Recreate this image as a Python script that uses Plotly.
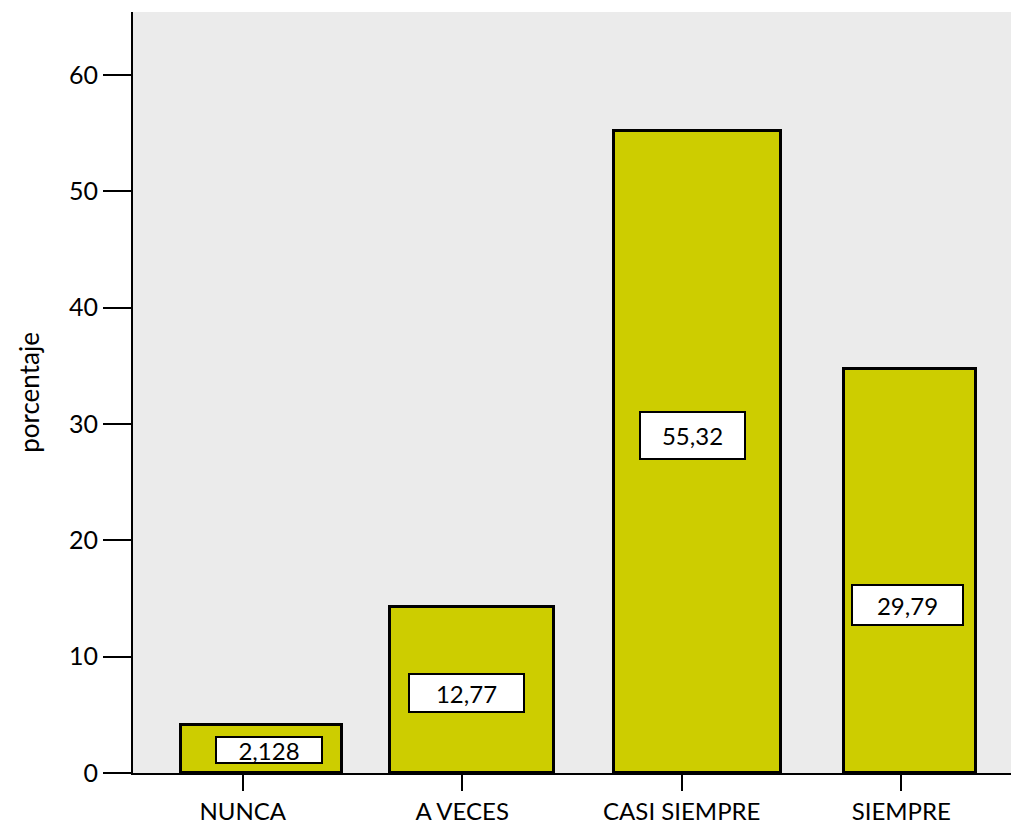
import plotly.graph_objects as go

categories = ["NUNCA", "A VECES", "CASI SIEMPRE", "SIEMPRE"]
bar_heights = [4.1, 14.3, 55.2, 34.7]          # heights as drawn in the picture
value_labels = ["2,128", "12,77", "55,32", "29,79"]  # printed labels
y_ticks = [0, 10, 20, 30, 40, 50, 60]

# layout / style (not data)
bar_widths = [0.73, 0.75, 0.76, 0.60]
bar_offsets = [-0.28, -0.33, -0.31, -0.26]
label_y = [2.0, 6.9, 29.0, 14.4]
label_dx = [0.12, 0.02, 0.05, 0.03]
label_w = [104, 113, 103, 109]
label_h = [24, 36, 45, 38]

FONT = "Lato, Open Sans, sans-serif"

fig = go.Figure()
fig.add_trace(go.Bar(
    x=categories, y=bar_heights,
    width=bar_widths, offset=bar_offsets,
    marker=dict(color="#CDCD00", line=dict(color="black", width=3)),
    hoverinfo="skip",
))

for i, (c, t) in enumerate(zip(categories, value_labels)):
    fig.add_annotation(
        x=i + label_dx[i], y=label_y[i], xref="x", yref="y",
        text=t, showarrow=False,
        font=dict(family=FONT, size=24, color="black"),
        bgcolor="white", bordercolor="black", borderwidth=2,
        width=label_w[i], height=label_h[i], borderpad=0,
        valign="middle",
    )

fig.update_layout(
    width=1011, height=825,
    margin=dict(l=133, r=0, t=12, b=50),
    paper_bgcolor="white", plot_bgcolor="#EBEBEB",
    showlegend=False,
    font=dict(family=FONT, size=24, color="black"),
    bargap=0,
)
fig.update_xaxes(
    type="category", range=[-0.5, 3.5],
    showline=True, linecolor="black", linewidth=2,
    ticks="outside", ticklen=16, tickwidth=2, tickcolor="black",
    tickfont=dict(size=24), showgrid=False, zeroline=False,
)
fig.update_yaxes(
    range=[0, 65.4], tickvals=y_ticks,
    showline=True, linecolor="black", linewidth=2,
    ticks="outside", ticklen=28, tickwidth=2, tickcolor="black",
    tickfont=dict(size=25), showgrid=False, zeroline=False,
    title=dict(text="porcentaje", font=dict(size=26), standoff=22),
)

fig.write_html(
    "out.html",
    config={"displayModeBar": False},
    post_script="document.body.style.margin='0';document.body.style.overflow='hidden';",
)
